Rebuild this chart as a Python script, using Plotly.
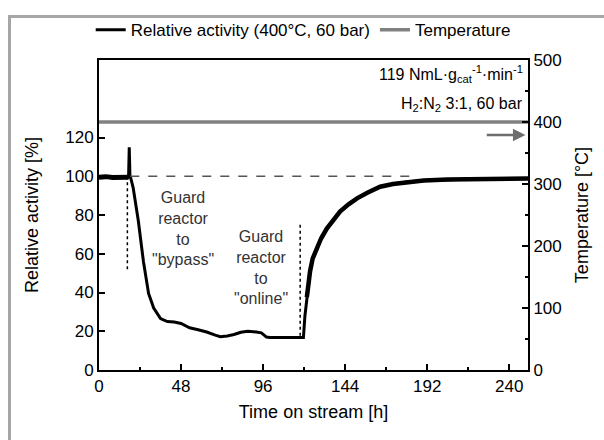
import plotly.graph_objects as go

# Relative activity data
time_h = [0, 4, 8, 12, 17.3, 17.7, 18.1, 18.6, 20, 23, 26, 28, 29, 32, 36, 40, 44, 48, 53, 58, 63,
          68, 71, 75, 79, 83, 87, 92, 95, 98, 100, 110, 119.6, 120.5, 121.6, 122.5, 123.5, 125,
          127.4, 130, 133.3, 137, 141, 146, 151, 157, 164.5, 172, 180, 190, 204, 220, 235, 251]
activity = [99.5, 99.8, 99.4, 99.7, 99.5, 115, 100, 99, 94, 77, 56, 46, 39.5, 32, 26.5, 25, 24.8, 24,
            21.8, 20.8, 19.6, 18, 17.2, 17.6, 18.3, 19.5, 20, 19.6, 19.2, 17, 16.8, 16.8, 16.8, 28,
            37.5, 45, 51, 57.5, 63, 68, 73, 77.5, 81.8, 85.5, 88.6, 91.5, 94.6, 96, 97, 97.8, 98.3,
            98.6, 98.7, 98.8]

temp_time = [0, 251]
temperature = [400, 400]

x_ticks = [0, 48, 96, 144, 192, 240]
y_ticks = [0, 20, 40, 60, 80, 100, 120]
y2_ticks = [0, 100, 200, 300, 400, 500]

FONT = "Liberation Sans, Arial, sans-serif"

fig = go.Figure()
fig.add_trace(go.Scatter(x=time_h, y=activity, mode="lines",
                         line=dict(color="black", width=3),
                         name="Relative activity (400°C, 60 bar)"))
# noisy (thicker) segments of the same series
fig.add_trace(go.Scatter(x=time_h[:5], y=activity[:5], mode="lines", showlegend=False,
                         line=dict(color="black", width=5), hoverinfo="skip"))
fig.add_trace(go.Scatter(x=time_h[34:], y=activity[34:], mode="lines", showlegend=False,
                         line=dict(color="black", width=4.5), hoverinfo="skip"))
fig.add_trace(go.Scatter(x=temp_time, y=temperature, mode="lines", yaxis="y2",
                         line=dict(color="#808080", width=3.5),
                         name="Temperature"))

shapes = [
    # outer gray frame
    dict(type="rect", xref="paper", yref="paper", x0=-0.2086, x1=1.35, y0=-0.35, y1=1.1406,
         line=dict(color="#a6a6a6", width=3), layer="below"),
    # dashed reference line at 100 %
    dict(type="line", xref="x", yref="y", x0=18.3, x1=185, y0=100, y1=100,
         line=dict(color="#555555", width=1.5, dash="dash")),
    # dotted markers
    dict(type="line", xref="x", yref="y", x0=16.6, x1=16.6, y0=100, y1=51,
         line=dict(color="black", width=1.5, dash="dot")),
    dict(type="line", xref="x", yref="y", x0=117.7, x1=117.7, y0=75, y1=17,
         line=dict(color="black", width=1.5, dash="dot")),
]

annotations = [
    dict(x=49, y=73, xref="x", yref="y", text="Guard<br>reactor<br>to<br>\"bypass\"",
         showarrow=False, font=dict(size=16, color="#333333", family=FONT), align="center"),
    dict(x=95, y=53, xref="x", yref="y", text="Guard<br>reactor<br>to<br>\"online\"",
         showarrow=False, font=dict(size=16, color="#333333", family=FONT), align="center"),
    dict(x=0.993, y=477, xref="paper", yref="y2", xanchor="right", yanchor="middle",
         text="119 NmL·g<sub>cat</sub><sup>-1</sup>·min<sup>-1</sup>", showarrow=False,
         font=dict(size=16, color="black", family=FONT)),
    dict(x=0.993, y=429, xref="paper", yref="y2", xanchor="right", yanchor="middle",
         text="H<sub>2</sub>:N<sub>2</sub> 3:1, 60 bar", showarrow=False,
         font=dict(size=16, color="black", family=FONT)),
    dict(x=249.5, y=379, xref="x", yref="y2", ax=226, ay=379, axref="x", ayref="y2",
         text="", showarrow=True, arrowhead=2, arrowsize=1, arrowwidth=2.5, arrowcolor="#6e6e6e"),
]

fig.update_layout(
    width=604, height=440,
    margin=dict(l=99, r=76, t=57, b=70),
    paper_bgcolor="white", plot_bgcolor="white",
    font=dict(family=FONT, size=17, color="black"),
    showlegend=True,
    legend=dict(orientation="h", x=0.476, y=1.096, xanchor="center", yanchor="middle",
                font=dict(size=17), bgcolor="rgba(0,0,0,0)", itemwidth=30,
                tracegroupgap=0),
    xaxis=dict(range=[0, 251], tickvals=x_ticks, ticks="inside", ticklen=6, tickwidth=1.5,
               tickcolor="black", showline=True, linecolor="black", linewidth=2, mirror=True,
               showgrid=False, zeroline=False, tickfont=dict(size=17),
               minor=dict(dtick=24, tick0=0, ticks="inside", ticklen=3, tickwidth=1.5, tickcolor="black"),
               title=dict(text="Time on stream [h]", font=dict(size=18), standoff=10)),
    yaxis=dict(range=[0, 160], tickvals=y_ticks, ticks="inside", ticklen=6, tickwidth=1.5,
               tickcolor="black", showline=True, linecolor="black", linewidth=2,
               showgrid=False, zeroline=False, tickfont=dict(size=17),
               title=dict(text="Relative activity [%]", font=dict(size=18), standoff=22)),
    yaxis2=dict(range=[0, 500], tickvals=y2_ticks, ticks="inside", ticklen=6, tickwidth=1.5,
                tickcolor="black", showline=True, linecolor="black", linewidth=2,
                overlaying="y", side="right", showgrid=False, zeroline=False, tickfont=dict(size=17),
                minor=dict(dtick=50, tick0=0, ticks="inside", ticklen=3, tickwidth=1.5, tickcolor="black"),
                title=dict(text="Temperature [°C]", font=dict(size=18), standoff=15)),
    shapes=shapes,
    annotations=annotations,
)

fig.write_html("out.html")
